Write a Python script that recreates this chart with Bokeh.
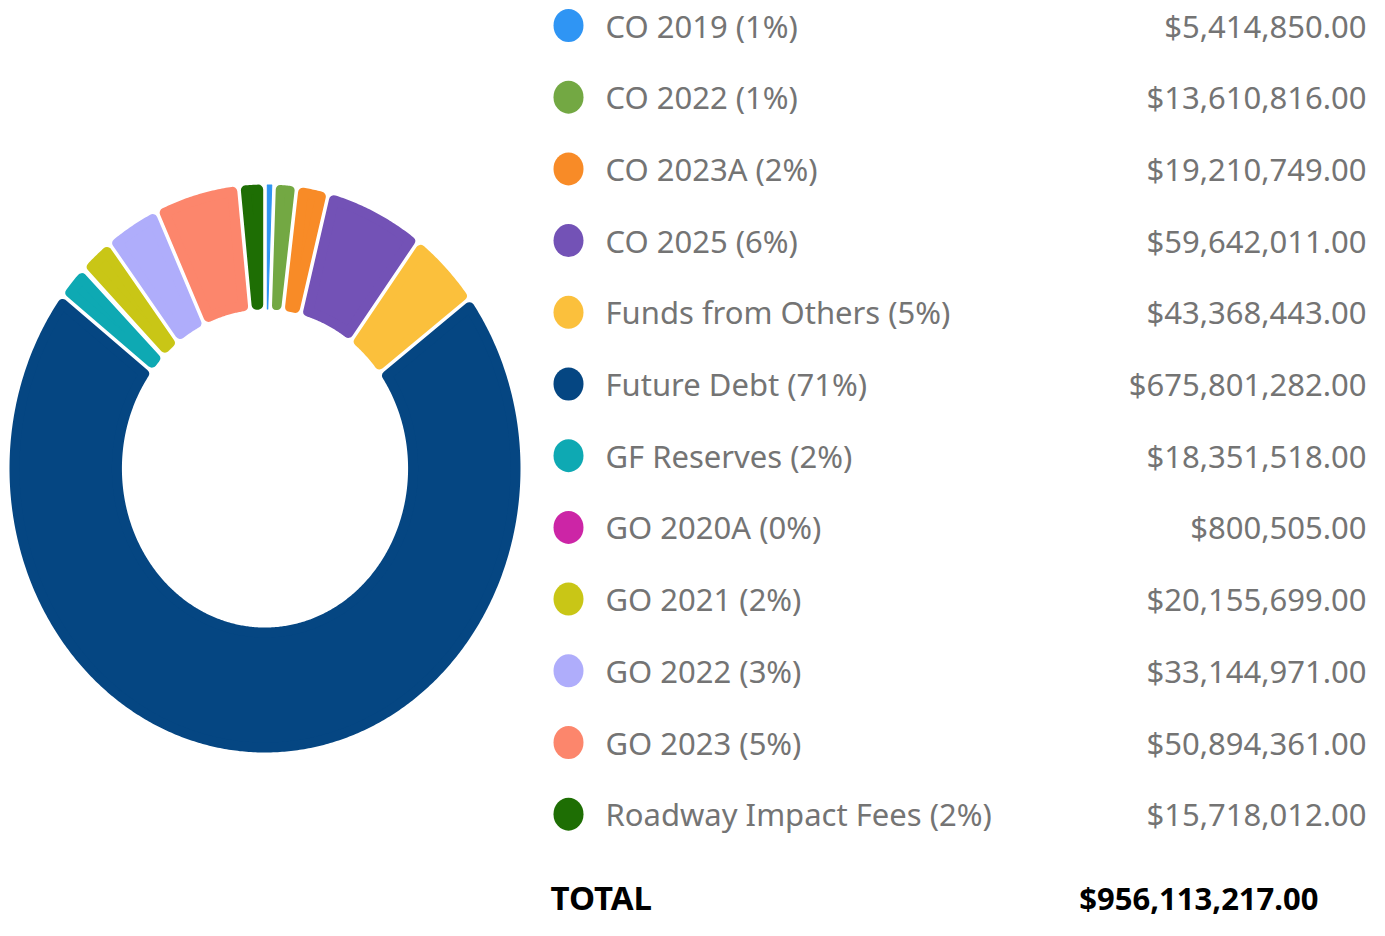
import numpy as np
from bokeh.plotting import figure
from bokeh.models import Range1d, ColumnDataSource
from bokeh.core.properties import value
from bokeh.embed import file_html
from bokeh.resources import INLINE

# ---------------- data ----------------
categories = ["CO 2019", "CO 2022", "CO 2023A", "CO 2025", "Funds from Others",
              "Future Debt", "GF Reserves", "GO 2020A", "GO 2021", "GO 2022",
              "GO 2023", "Roadway Impact Fees"]
amounts = [5414850, 13610816, 19210749, 59642011, 43368443, 675801282,
           18351518, 800505, 20155699, 33144971, 50894361, 15718012]
colors = ["#2f95f4", "#73a843", "#f88b27", "#7352b6", "#fbc03c", "#054682",
          "#0ea9b3", "#cc25a6", "#c9c616", "#afadfb", "#fc866c", "#1e6e04"]
total_label = "TOTAL"

# ---------------- layout ----------------
W, H = 1369, 920
p = figure(width=W, height=H, x_range=Range1d(0, W), y_range=Range1d(H, 0),
           output_backend="svg", toolbar_location=None, min_border=0,
           x_axis_type=None, y_axis_type=None)
p.grid.visible = False
p.outline_line_color = None
p.background_fill_color = "white"

total = float(sum(amounts))
fracs = np.array(amounts, dtype=float) / total
ends = np.cumsum(fracs) * 2 * np.pi
starts = ends - fracs * 2 * np.pi

cx, cy = 264.5, 468.0
rx, ry = 255.5, 284.0
inner = 0.56
g = 1.8      # half gap (px)
rc = 5.0     # corner radius (px)


def pt(rho, a):
    return cx + rx * rho * np.sin(a), cy - ry * rho * np.cos(a)


def tspeed(a):
    return np.sqrt((rx * np.cos(a)) ** 2 + (ry * np.sin(a)) ** 2)


def rspeed(a):
    return np.sqrt((rx * np.sin(a)) ** 2 + (ry * np.cos(a)) ** 2)


xs, ys, fc, lw = [], [], [], []
for a0, a1, col in zip(starts, ends, colors):
    mid = 0.5 * (a0 + a1)
    avail = (a1 - a0) * inner * tspeed(mid) / 2.0
    rci = min(rc, avail - g - 0.2)
    if rci < 0.3:
        continue
    rho_o0 = 1 - rci / rspeed(a0)
    rho_o1 = 1 - rci / rspeed(a1)
    rho_i0 = inner + rci / rspeed(a0)
    rho_i1 = inner + rci / rspeed(a1)
    oa0 = a0 + (g + rci) / (rho_o0 * tspeed(a0))
    oa1 = a1 - (g + rci) / (rho_o1 * tspeed(a1))
    ia0 = a0 + (g + rci) / (rho_i0 * tspeed(a0))
    ia1 = a1 - (g + rci) / (rho_i1 * tspeed(a1))
    n = max(3, int(np.degrees(a1 - a0) * 2))
    ao = np.linspace(oa0, oa1, n)
    ai = np.linspace(ia1, ia0, n)
    xo, yo = pt(1 - rci / rspeed(ao), ao)
    xi, yi = pt(inner + rci / rspeed(ai), ai)
    xs.append(list(np.concatenate([xo, xi])))
    ys.append(list(np.concatenate([yo, yi])))
    fc.append(col)
    lw.append(2 * rci)

p.patches(xs="xs", ys="ys", fill_color="fc", line_color="fc", line_width="lw",
          line_join="round",
          source=ColumnDataSource(dict(xs=xs, ys=ys, fc=fc, lw=lw)))

# ---------------- legend ----------------
row_y0, row_dy = 25.0, 71.7
rows_y = [row_y0 + i * row_dy for i in range(len(categories))]
pcts = [int(round(f * 100)) for f in fracs]
labels = [f"{c} ({q}%)" for c, q in zip(categories, pcts)]
vals = [f"${v:,.2f}" for v in amounts]

src = ColumnDataSource(dict(y=rows_y, c=colors, lab=labels, val=vals,
                            xc=[568] * len(rows_y), xl=[605] * len(rows_y),
                            xv=[1366] * len(rows_y)))
p.ellipse(x="xc", y="y", width=30, height=33, fill_color="c", line_color=None, source=src)
p.text(x="xl", y="y", text="lab", source=src, text_font=value("Noto Sans"),
       text_font_size=value("31px"), text_color="#747474",
       text_align="left", text_baseline="middle")
p.text(x="xv", y="y", text="val", source=src, text_font=value("Noto Sans"),
       text_font_size=value("31px"), text_color="#747474",
       text_align="right", text_baseline="middle")

tsrc = ColumnDataSource(dict(x=[550, 1318], y=[897, 897],
                             t=[total_label, f"${total:,.2f}"],
                             al=["left", "right"], fs=["33px", "31px"]))
p.text(x="x", y="y", text="t", text_align="al", text_font_size="fs", source=tsrc,
       text_font=value("Noto Sans"),
       text_font_style="bold", text_color="#000000", text_baseline="middle")

open("out.html", "w").write(file_html(p, INLINE))
